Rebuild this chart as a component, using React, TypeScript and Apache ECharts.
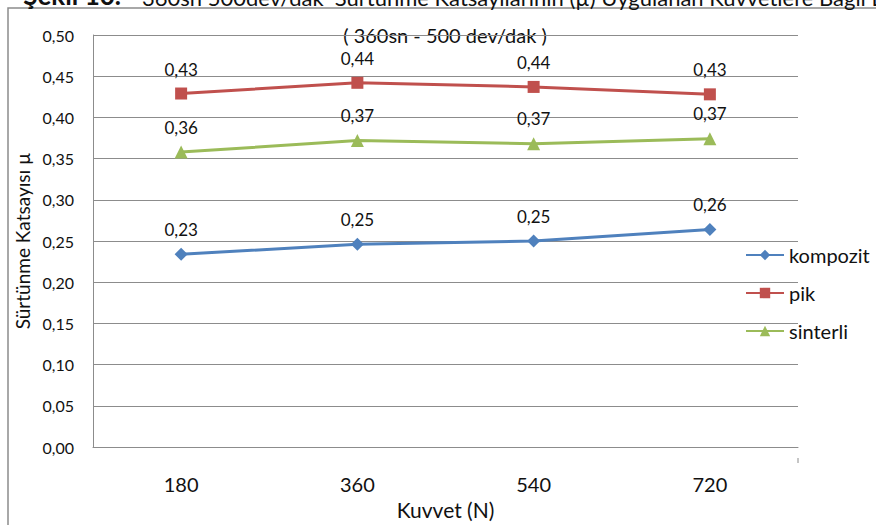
import React, { useEffect, useRef } from "react";
import * as echarts from "echarts";

// Applied force (N)
const categories = ["180", "360", "540", "720"];
// Friction coefficient per material
const kompozit = [0.234, 0.246, 0.25, 0.264];
const pik = [0.429, 0.442, 0.437, 0.428];
const sinterli = [0.358, 0.372, 0.368, 0.374];
const yTicks = { min: 0, max: 0.5, interval: 0.05 };

const FONT = "Lato, 'Open Sans', sans-serif";
const INK = "#111111";
const GRID = "#8c8c8c";
const fmt = (v: number) => v.toFixed(2).replace(".", ",");

export default function App() {
  const ref = useRef<HTMLDivElement>(null);

  useEffect(() => {
    if (!ref.current) return;
    const chart = echarts.init(ref.current, undefined, { renderer: "svg" });

    const mkSeries = (name: string, data: number[], color: string, symbol: string, size: number) => ({
      name,
      type: "line",
      data,
      symbol,
      symbolSize: size,
      lineStyle: { color, width: 3 },
      itemStyle: { color },
      label: {
        show: true,
        position: "top",
        distance: 10,
        formatter: (p: any) => fmt(p.value),
        fontFamily: FONT,
        fontSize: 17,
        color: INK,
      },
    });

    chart.setOption({
      animation: false,
      backgroundColor: "#ffffff",
      textStyle: { fontFamily: FONT },
      grid: { left: 93, right: 78, top: 35, bottom: 67, containLabel: false },
      legend: {
        orient: "vertical",
        left: 740,
        top: 240,
        itemWidth: 38,
        itemHeight: 13,
        itemGap: 18,
        textStyle: { fontFamily: FONT, fontSize: 20, color: INK },
        data: ["kompozit", "pik", "sinterli"],
      },
      xAxis: {
        type: "category",
        data: categories,
        boundaryGap: true,
        name: "Kuvvet (N)",
        nameLocation: "middle",
        nameGap: 47,
        nameTextStyle: { fontFamily: FONT, fontSize: 21, color: INK },
        axisLine: { lineStyle: { color: GRID, width: 1 } },
        axisTick: { alignWithLabel: true, length: 5, lineStyle: { color: GRID } },
        axisLabel: { fontFamily: FONT, fontSize: 20, color: INK, margin: 27 },
        splitLine: { show: false },
      },
      yAxis: {
        type: "value",
        min: yTicks.min,
        max: yTicks.max,
        interval: yTicks.interval,
        name: "Sürtünme Katsayısı µ",
        nameLocation: "middle",
        nameGap: 60,
        nameTextStyle: { fontFamily: FONT, fontSize: 19, color: INK },
        axisLine: { show: true, lineStyle: { color: GRID, width: 1 } },
        axisTick: { show: false },
        axisLabel: { fontFamily: FONT, fontSize: 16, color: INK, margin: 19, formatter: (v: number) => fmt(v) },
        splitLine: { lineStyle: { color: GRID, width: 1 } },
      },
      graphic: [
        {
          type: "polyline",
          shape: { points: [[8, 525], [8, 8], [876, 8]] },
          style: { stroke: GRID, lineWidth: 1.5, fill: "none" },
          silent: true,
        },
        {
          type: "line",
          shape: { x1: 798, y1: 458, x2: 798, y2: 463 },
          style: { stroke: GRID, lineWidth: 1 },
          silent: true,
        },
        // Figure caption running above the chart frame
        {
          type: "text",
          x: 121,
          y: 8,
          style: {
            text: "Şekil 10.",
            fontFamily: FONT,
            fontSize: 26,
            fontWeight: "bold",
            fill: INK,
            align: "right",
            verticalAlign: "bottom",
          },
          silent: true,
        },
        {
          type: "text",
          x: 142,
          y: 8,
          style: {
            text: "360sn 500dev/dak  Sürtünme Katsayılarının (µ) Uygulanan Kuvvetlere Bağlı Değişimi",
            fontFamily: FONT,
            fontSize: 22,
            fill: INK,
            align: "left",
            verticalAlign: "bottom",
          },
          silent: true,
        },
        {
          type: "text",
          x: 445,
          y: 35,
          style: {
            text: "( 360sn - 500 dev/dak )",
            fontFamily: FONT,
            fontSize: 20,
            fill: INK,
            align: "center",
            verticalAlign: "middle",
          },
          silent: true,
        },
      ],
      series: [
        mkSeries("kompozit", kompozit, "#4f81bd", "diamond", 13),
        mkSeries("pik", pik, "#c0504d", "rect", 12),
        mkSeries("sinterli", sinterli, "#9bbb59", "triangle", 13),
      ],
    });

    return () => chart.dispose();
  }, []);

  return (
    <div
      ref={ref}
      style={{ position: "absolute", left: 0, top: 0, width: 876, height: 525 }}
    />
  );
}
